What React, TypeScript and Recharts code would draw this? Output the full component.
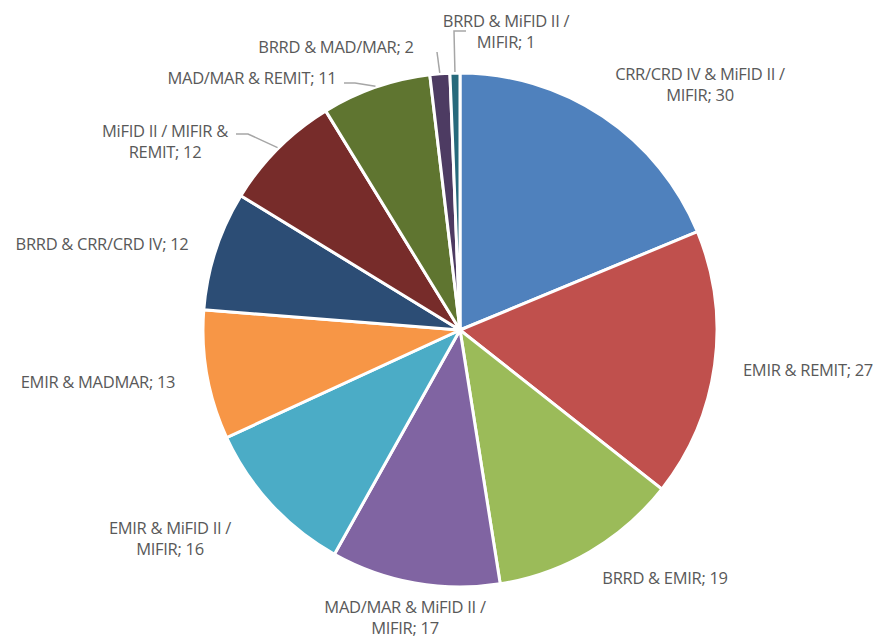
import { Cell, Pie, PieChart } from 'recharts'

const categories = [
  'CRR/CRD IV & MiFID II / MIFIR',
  'EMIR & REMIT',
  'BRRD & EMIR',
  'MAD/MAR & MiFID II / MIFIR',
  'EMIR & MiFID II / MIFIR',
  'EMIR & MADMAR',
  'BRRD & CRR/CRD IV',
  'MiFID II / MIFIR & REMIT',
  'MAD/MAR & REMIT',
  'BRRD & MAD/MAR',
  'BRRD & MiFID II / MIFIR',
]

const counts = [30, 27, 19, 17, 16, 13, 12, 12, 11, 2, 1]

const colors = [
  '#4F81BD', '#C0504D', '#9BBB59', '#8064A2', '#4BACC6', '#F79646',
  '#2C4D75', '#772C2A', '#5F7530', '#4D3B62', '#276A7C',
]

// label placement relative to the pie centre, plus optional leader elbow
type LabelSpot = { dx: number; dy: number; wrap?: string; leader?: number[][] }
const labelSpots: LabelSpot[] = [
  { dx: 240, dy: -247, wrap: 'II /' },
  { dx: 348, dy: 39 },
  { dx: 205, dy: 247 },
  { dx: -55, dy: 286, wrap: 'II /' },
  { dx: -290, dy: 207, wrap: 'II /' },
  { dx: -362, dy: 51 },
  { dx: -358, dy: -87 },
  { dx: -295, dy: -190, wrap: 'MIFIR &', leader: [[-212, -196], [-224, -196]] },
  { dx: -208, dy: -253, leader: [[-105, -247], [-116, -247]] },
  { dx: -124, dy: -284, leader: [[-23, -278]] },
  { dx: 46, dy: -300, wrap: 'II /', leader: [[-6, -299], [6, -299]] },
]

const data = categories.map((name, i) => ({ name, value: counts[i] }))

const RAD = Math.PI / 180
const LINE_H = 21

function renderLabel(props: any) {
  const { cx, cy, midAngle, outerRadius, index, name, value } = props
  const spot = labelSpots[index]
  const full = `${name}; ${value}`
  let lines = [full]
  if (spot.wrap) {
    const cut = full.indexOf(spot.wrap) + spot.wrap.length
    lines = [full.slice(0, cut), full.slice(cut).trim()]
  }
  const x = cx + spot.dx
  const y0 = cy + spot.dy - ((lines.length - 1) * LINE_H) / 2
  let leader = null
  if (spot.leader) {
    const ex = cx + (outerRadius + 1) * Math.cos(-midAngle * RAD)
    const ey = cy + (outerRadius + 1) * Math.sin(-midAngle * RAD)
    const pts = [[ex, ey], ...spot.leader.map(([a, b]) => [cx + a, cy + b])]
    leader = (
      <polyline
        points={pts.map((p) => p.join(',')).join(' ')}
        fill="none"
        stroke="#A6A6A6"
        strokeWidth={1.5}
      />
    )
  }
  return (
    <g key={`lbl-${index}`}>
      {leader}
      <text
        x={x}
        y={y0}
        textAnchor="middle"
        dominantBaseline="central"
        fill="#595959"
        fontFamily="'Open Sans', sans-serif"
        fontSize={16.5}
        letterSpacing={-0.3}
      >
        {lines.map((l, i) => (
          <tspan key={i} x={x} dy={i === 0 ? 0 : LINE_H}>
            {l}
          </tspan>
        ))}
      </text>
    </g>
  )
}

export default function App() {
  return (
    <div style={{ position: 'absolute', left: 0, top: 0, background: '#fff' }}>
      <PieChart width={879} height={639} margin={{ top: 0, right: 0, bottom: 0, left: 0 }}>
        <Pie
          data={data}
          dataKey="value"
          nameKey="name"
          cx={460}
          cy={330}
          outerRadius={257}
          startAngle={90}
          endAngle={-270}
          stroke="#FFFFFF"
          strokeWidth={3}
          label={renderLabel}
          labelLine={false}
          isAnimationActive={false}
        >
          {data.map((d, i) => (
            <Cell key={d.name} fill={colors[i]} />
          ))}
        </Pie>
      </PieChart>
    </div>
  )
}
